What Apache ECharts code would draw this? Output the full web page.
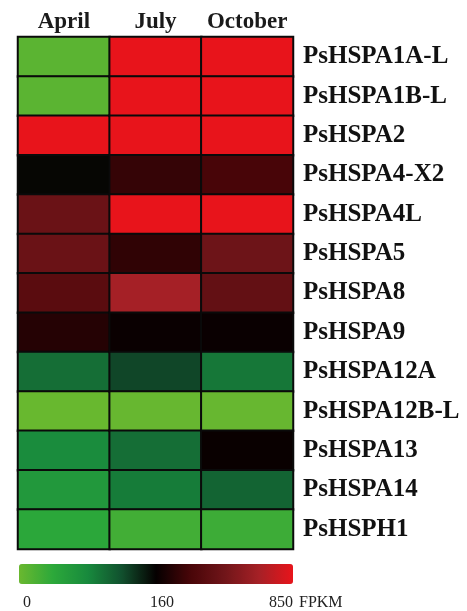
<!DOCTYPE html>
<html><head><meta charset="utf-8">
<script src="https://cdn.jsdelivr.net/npm/echarts@6/dist/echarts.min.js"></script>
<style>html,body{margin:0;padding:0;background:#fff}#c{width:467px;height:611px}</style>
</head><body><div id="c"></div>
<script>
const months = ['April', 'July', 'October'];
const genes = ['PsHSPA1A-L','PsHSPA1B-L','PsHSPA2','PsHSPA4-X2','PsHSPA4L','PsHSPA5','PsHSPA8','PsHSPA9','PsHSPA12A','PsHSPA12B-L','PsHSPA13','PsHSPA14','PsHSPH1'];
const april   = [10, 10, 850, 157, 477, 477, 408, 243, 99, 1, 77, 61, 42];
const july    = [850, 850, 850, 284, 850, 270, 678, 174, 125, 2, 99, 90, 26];
const october = [850, 850, 850, 332, 850, 491, 450, 174, 93, 2, 170, 106, 29];
const scaleTicks = [0, 160, 850];
const scaleTickLabels = ['0', '160', '850'];
const unitLabel = 'FPKM';

// piecewise scale: 0..160 -> 0..0.5, 160..850 -> 0.5..1
function pos(v) {
  return v <= scaleTicks[1] ? 0.5 * v / scaleTicks[1]
    : 0.5 + 0.5 * (v - scaleTicks[1]) / (scaleTicks[2] - scaleTicks[1]);
}
const cols = [april, july, october];
const data = [];
cols.forEach((arr, ci) => arr.forEach((v, ri) => data.push([ci, ri, v, pos(v)])));

const chart = echarts.init(document.getElementById('c'));
const font = "'Liberation Serif', 'Times New Roman', serif";
chart.setOption({
  animation: false,
  grid: { left: 18, right: 174, top: 37, bottom: 62 },
  xAxis: {
    type: 'category', data: months, position: 'top',
    axisLine: { show: false }, axisTick: { show: false }, splitLine: { show: false },
    axisLabel: { interval: 0, hideOverlap: false, margin: 3, fontFamily: font, fontWeight: 'bold', fontSize: 23, color: '#1a1a1a' }
  },
  yAxis: {
    type: 'category', data: genes, inverse: true, position: 'right',
    axisLine: { show: false }, axisTick: { show: false }, splitLine: { show: false },
    axisLabel: { interval: 0, margin: 10, fontFamily: font, fontWeight: 'bold', fontSize: 25, color: '#111' }
  },
  visualMap: {
    type: 'continuous', dimension: 3, min: 0, max: 1, padding: 0,
    orient: 'horizontal', left: 19, top: 564, itemWidth: 20, itemHeight: 274,
    calculable: false, text: null, showLabel: false, hoverLink: false,
    inRange: { color: ['#6ab82f', '#2ca83a', '#188a3d', '#11502e', '#050000', '#480508', '#701519', '#a52026', '#e8141b'] }
  },
  graphic: scaleTickLabels.map((t, i) => ({
    type: 'text', left: [23, 150, 269][i], top: 595,
    style: { text: t, font: "16px 'Liberation Serif', serif", fill: '#222' }
  })).concat([{
    type: 'text', left: 299, top: 595,
    style: { text: unitLabel, font: "16px 'Liberation Serif', serif", fill: '#222' }
  }]),
  series: [{
    type: 'heatmap', data: data,
    itemStyle: { borderColor: '#0a0a0a', borderWidth: 2 },
    emphasis: { disabled: true }
  }]
});
</script></body></html>
